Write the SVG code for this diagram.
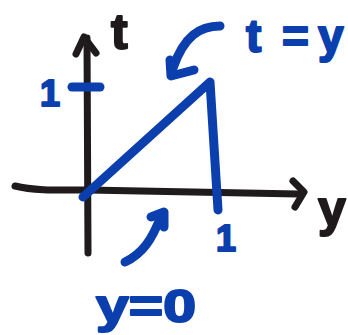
<svg xmlns="http://www.w3.org/2000/svg" width="348" height="335" viewBox="0 0 348 335">
<style>
.ax{fill:none;stroke:#1f1a1b;stroke-width:7;stroke-linecap:round;stroke-linejoin:round}
.bl{fill:none;stroke:#0b3fae;stroke-width:9;stroke-linecap:round;stroke-linejoin:round}
.tb{font-family:"Liberation Sans",Arial,sans-serif;font-weight:bold;fill:#0b3fae;stroke:#0b3fae;stroke-width:2;stroke-linejoin:round}
.tk{font-family:"Liberation Sans",Arial,sans-serif;font-weight:bold;fill:#1f1a1b;stroke:#1f1a1b;stroke-width:2;stroke-linejoin:round}
</style>
<rect width="348" height="335" fill="#ffffff"/>
<g id="connectors">
<g id="axis-t">
<path class="ax" d="M87,38 L88,253"/>
<path class="ax" d="M76,54 L84,37 L96,53"/>
</g>
<g id="axis-y">
<path class="ax" d="M15,186 C35,191 60,190 88,190 L298,194"/>
<path class="ax" d="M293,181 L304,192 L295,207"/>
</g>
<g id="region">
<path class="bl" d="M83,197 L210,82 L218,210"/>
<path class="bl" d="M72,87 L100,87"/>
</g>
<g id="arrow-top">
<path class="bl" d="M220,26 C200,26 184,36 173,68"/>
<path class="bl" d="M170,60 L171,76 L194,70"/>
</g>
<g id="arrow-bottom">
<path class="bl" d="M125,262 C142,254 152,240 161,216"/>
<path class="bl" d="M151,217 L164,212 L164,227"/>
</g>
</g>
<g id="label-t"><text class="tk" x="111" y="49" font-size="50">t</text></g>
<g id="label-y"><text class="tb" x="318" y="226" font-size="50" fill="#1f1a1b" style="fill:#1f1a1b;stroke:#1f1a1b">y</text></g>
<g id="label-1-left"><text class="tb" x="40" y="106" font-size="36">1</text></g>
<g id="label-1-bottom"><text class="tb" x="216" y="251" font-size="36">1</text></g>
<g id="label-t-eq-y"><text class="tb" x="246 270 282 306 318" y="52" font-size="46">t = y</text></g>
<g id="label-y-eq-0"><text class="tb" x="96" y="322" font-size="46" textLength="100" lengthAdjust="spacingAndGlyphs">y=0</text></g>
</svg>
